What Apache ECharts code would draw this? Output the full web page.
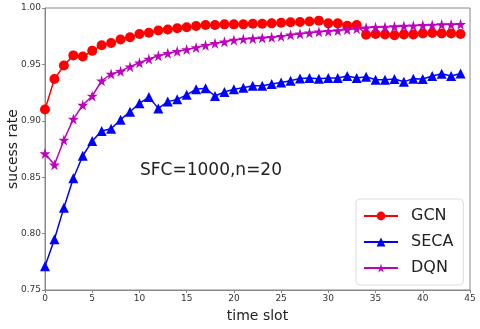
<!DOCTYPE html>
<html><head><meta charset="utf-8">
<script src="https://cdn.jsdelivr.net/npm/echarts@6/dist/echarts.min.js"></script>
<style>html,body{margin:0;padding:0;background:#fff}#c{width:480px;height:329px}</style>
</head><body><div id="c"></div>
<script>
var timeSlots = [0,1,2,3,4,5,6,7,8,9,10,11,12,13,14,15,16,17,18,19,20,21,22,23,24,25,26,27,28,29,30,31,32,33,34,35,36,37,38,39,40,41,42,43,44];
var gcn = [0.910,0.937,0.949,0.958,0.957,0.962,0.967,0.969,0.972,0.974,0.977,0.978,0.980,0.981,0.982,0.983,0.984,0.985,0.985,0.9855,0.9855,
  0.9855,0.986,0.986,0.9864,0.987,0.9873,0.9876,0.988,0.9888,0.9864,0.9864,0.9843,0.985,0.9763,0.977,0.9766,0.9758,0.9766,0.9766,0.9775,0.9778,0.9775,0.9775,0.977];
var seca = [0.771,0.795,0.823,0.849,0.869,0.882,0.891,0.893,0.901,0.908,0.9155,0.921,0.911,0.917,0.919,0.923,0.928,0.9288,0.922,0.9255,0.928,
  0.9293,0.931,0.931,0.9326,0.934,0.9355,0.9376,0.938,0.9373,0.938,0.9379,0.9397,0.9379,0.939,0.9364,0.9364,0.937,0.9347,0.9373,0.937,0.9397,0.9417,0.9397,0.942];
var dqn = [0.871,0.861,0.883,0.9015,0.914,0.922,0.9355,0.9415,0.944,0.948,0.9515,0.9548,0.9577,0.9598,0.9616,0.9633,0.965,0.967,0.9687,0.970,0.9716,
  0.9725,0.973,0.9735,0.974,0.975,0.9763,0.9772,0.978,0.979,0.9793,0.980,0.981,0.9817,0.9825,0.983,0.9832,0.9835,0.984,0.9843,0.9846,0.985,0.9853,0.9853,0.9855];
var seriesNames = ['GCN','SECA','DQN'];
var xTicks = [0,5,10,15,20,25,30,35,40,45];
var yTicks = [0.75,0.80,0.85,0.90,0.95,1.00];

function pairs(v){ return timeSlots.map(function(t,i){ return [t, v[i]]; }); }
var star = 'path://M50,0 L61,35 L98,35 L68,57 L79,91 L50,70 L21,91 L32,57 L2,35 L39,35 Z';
var font = 'DejaVu Sans';
var chart = echarts.init(document.getElementById('c'));
chart.setOption({
  animation: false,
  backgroundColor: '#fff',
  grid: {left: 45, right: 10, top: 8, bottom: 39, show: true, borderColor: '#888', borderWidth: 1,
    containLabel: false, outerBoundsMode: 'none'},
  xAxis: {type: 'value', min: 0, max: 45, interval: 5,
    name: 'time slot', nameLocation: 'middle', nameGap: 19, nameMoveOverlap: false,
    nameTextStyle: {fontFamily: font, fontSize: 14, color: '#222'},
    axisLine: {lineStyle: {color: '#888'}}, axisTick: {show: true, length: 3, lineStyle: {color: '#888'}},
    axisLabel: {fontFamily: font, fontSize: 9, color: '#333', margin: 4},
    splitLine: {show: false}},
  yAxis: {type: 'value', min: 0.75, max: 1.0, interval: 0.05,
    name: 'sucess rate', nameLocation: 'middle', nameGap: 25, nameMoveOverlap: false,
    nameTextStyle: {fontFamily: font, fontSize: 14, color: '#222'},
    axisLine: {show: true, lineStyle: {color: '#888'}}, axisTick: {show: true, length: 3, lineStyle: {color: '#888'}},
    axisLabel: {fontFamily: font, fontSize: 9, color: '#333', margin: 4, formatter: function(v){ return v.toFixed(2); }},
    splitLine: {show: false}},
  legend: {left: 356, top: 199, orient: 'vertical', itemWidth: 34, itemHeight: 11, itemGap: 10,
    padding: [9, 10, 9, 7], borderColor: '#ddd', borderWidth: 1, borderRadius: 4, backgroundColor: '#fff',
    textStyle: {fontFamily: font, fontSize: 16, color: '#222', padding: [0,0,0,8]},
    data: seriesNames},
  graphic: [{type: 'text', left: 140, top: 162, style: {text: 'SFC=1000,n=20', font: '17px "DejaVu Sans"', fill: '#222'}}],
  series: [
    {name: seriesNames[0], type: 'line', data: pairs(gcn), symbol: 'circle', symbolSize: 10,
      itemStyle: {color: '#ff0000'}, lineStyle: {width: 1.5, color: '#ff0000'}, z: 3},
    {name: seriesNames[1], type: 'line', data: pairs(seca), symbol: 'triangle', symbolSize: 10,
      itemStyle: {color: '#0000ff'}, lineStyle: {width: 1.5, color: '#0000ff'}, z: 2},
    {name: seriesNames[2], type: 'line', data: pairs(dqn), symbol: star, symbolSize: 11,
      itemStyle: {color: '#bf00bf'}, lineStyle: {width: 1.5, color: '#bf00bf'}, z: 4}
  ]
});
</script></body></html>
